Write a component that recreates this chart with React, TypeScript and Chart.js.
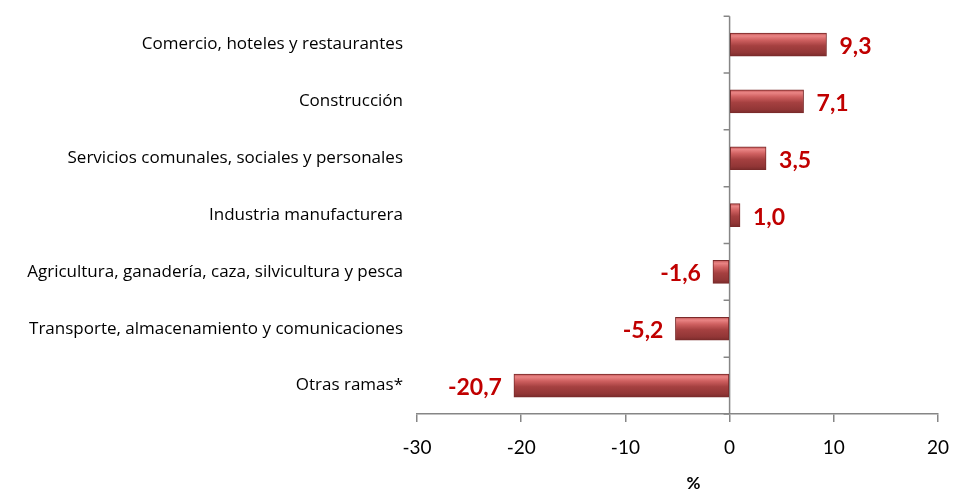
import React, { useEffect, useRef } from "react";
import { Chart, registerables } from "chart.js";

Chart.register(...registerables);

const categories = [
  "Comercio, hoteles y restaurantes",
  "Construcción",
  "Servicios comunales, sociales y personales",
  "Industria manufacturera",
  "Agricultura, ganadería, caza, silvicultura y pesca",
  "Transporte, almacenamiento y comunicaciones",
  "Otras ramas*",
];
const values = [9.3, 7.1, 3.5, 1.0, -1.6, -5.2, -20.7];
const xMin = -30;
const xMax = 20;
const xStep = 10;
const axisTitle = "%";

const fmt = (v: number) => v.toFixed(1).replace(".", ",");

const AXIS_COLOR = "#868686";
const LABEL_COLOR = "#C00000";

const barGradient = (context: any) => {
  const chart = context.chart;
  const { ctx, chartArea, scales } = chart;
  if (!chartArea || !scales.y) return "#b04545";
  const yc = scales.y.getPixelForValue(context.dataIndex);
  const half = 11.5;
  const g = ctx.createLinearGradient(0, yc - half, 0, yc + half);
  g.addColorStop(0, "#c05555");
  g.addColorStop(0.12, "#ea8585");
  g.addColorStop(0.3, "#cf6060");
  g.addColorStop(0.55, "#a54040");
  g.addColorStop(0.85, "#923636");
  g.addColorStop(1, "#7a2b2b");
  return g;
};

const decorPlugin = {
  id: "decor",
  beforeDatasetsDraw(chart: any) {
    const { ctx, chartArea, scales } = chart;
    const x0 = scales.x.getPixelForValue(0);
    ctx.save();
    ctx.strokeStyle = AXIS_COLOR;
    ctx.lineWidth = 1.5;
    ctx.beginPath();
    ctx.moveTo(x0, chartArea.top);
    ctx.lineTo(x0, chartArea.bottom);
    const n = categories.length;
    const h = (chartArea.bottom - chartArea.top) / n;
    for (let i = 0; i <= n; i++) {
      const y = chartArea.top + i * h;
      ctx.moveTo(x0 - 6, y);
      ctx.lineTo(x0, y);
    }
    ctx.stroke();
    ctx.restore();
  },
  afterDatasetsDraw(chart: any) {
    const { ctx, chartArea } = chart;
    const meta = chart.getDatasetMeta(0);
    ctx.save();
    ctx.font = "bold 23px Lato";
    ctx.fillStyle = LABEL_COLOR;
    ctx.textBaseline = "middle";
    meta.data.forEach((bar: any, i: number) => {
      const v = values[i];
      const txt = fmt(v);
      if (v >= 0) {
        ctx.textAlign = "left";
        ctx.fillText(txt, bar.x + 13, bar.y + 2);
      } else {
        ctx.textAlign = "right";
        ctx.fillText(txt, bar.x - 12, bar.y + 2);
      }
    });
    ctx.font = "bold 17px Lato";
    ctx.fillStyle = "#000";
    ctx.textAlign = "center";
    ctx.textBaseline = "middle";
    ctx.fillText(axisTitle, (chartArea.left + chartArea.right) / 2 + 16, 484);
    ctx.restore();
  },
};

export default function App() {
  const ref = useRef<HTMLCanvasElement>(null);
  useEffect(() => {
    document.body.style.margin = "0";
    const chart = new Chart(ref.current!, {
      type: "bar",
      data: {
        labels: categories,
        datasets: [
          {
            data: values,
            backgroundColor: barGradient,
            borderColor: "#7a2a2a",
            borderWidth: 1,
            borderSkipped: false,
            barThickness: 23,
          },
        ],
      },
      options: {
        indexAxis: "y",
        animation: false,
        responsive: false,
        layout: { padding: { top: 4, right: 16, left: 0, bottom: 0 } },
        plugins: {
          legend: { display: false },
          tooltip: { enabled: false },
        },
        scales: {
          x: {
            min: xMin,
            max: xMax,
            ticks: {
              stepSize: xStep,
              color: "#000",
              font: { family: "Lato", size: 19 },
              padding: 14,
            },
            grid: {
              drawOnChartArea: false,
              drawTicks: true,
              tickLength: 8,
              color: AXIS_COLOR,
              lineWidth: 1.5,
            },
            border: { display: true, color: AXIS_COLOR, width: 1.5 },
            afterFit: (s: any) => {
              s.height = 77;
              s.paddingRight = 0;
              s.paddingLeft = 0;
            },
          },
          y: {
            ticks: {
              color: "#000",
              font: { family: "Open Sans", size: 17 },
              padding: 6,
            },
            grid: { display: false },
            border: { display: false },
            afterFit: (s: any) => {
              s.width = 417;
            },
          },
        },
      },
      plugins: [decorPlugin],
    });
    return () => chart.destroy();
  }, []);
  return <canvas ref={ref} width={954} height={491} style={{ display: "block" }} />;
}
